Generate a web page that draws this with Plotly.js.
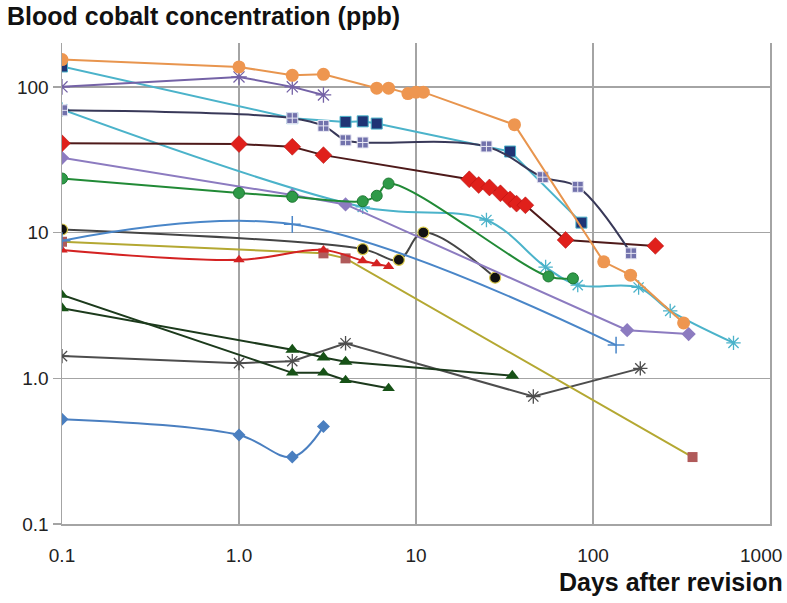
<!DOCTYPE html>
<html>
<head>
<meta charset="utf-8">
<script src="https://cdn.plot.ly/plotly-3.0.1.min.js"></script>
<style>html,body{margin:0;padding:0;background:#fff;}#chart{width:787px;height:603px;}</style>
</head>
<body>
<div id="chart"></div>
<script>
// ---- Data (days after revision, blood cobalt ppb) ----
const orangeX = [0.1, 1, 2, 3, 6, 7, 9, 10, 11, 36, 115, 163, 325];
const orangeY = [154, 137, 120, 122, 98, 98, 90, 92, 92, 55, 6.3, 5.1, 2.4];

const lavenderX = [0.1, 1, 2, 3];
const lavenderY = [100, 117, 100, 88];

const navyX = [0.1, 2, 4, 5, 6, 34, 86];
const navyY = [138, 61, 57.5, 58, 56, 36, 11.7];

const crossX = [0.1, 2, 3, 4, 5, 25, 52, 82, 164];
const crossY = [69, 61, 54, 43, 41.5, 39, 24, 20.6, 7.2];

const redDiaX = [0.1, 1, 2, 3, 20, 22.6, 26, 30, 34, 37, 41.5, 70, 225];
const redDiaY = [41, 40.5, 38.8, 34, 23.2, 21.2, 20.4, 18.6, 16.9, 15.8, 15.4, 8.9, 8.1];

const purpleX = [0.1, 2, 4, 156, 347];
const purpleY = [32.6, 18.1, 15.6, 2.14, 2.01];

const greenX = [0.1, 1, 2, 5, 6, 7, 56, 77];
const greenY = [23.5, 18.7, 17.6, 16.4, 17.9, 21.7, 5.0, 4.85];

const cyanX = [0.1, 5, 25, 54, 82, 181, 273, 622];
const cyanY = [70, 15, 12.2, 5.8, 4.36, 4.2, 2.9, 1.75];

const bluePlusX = [0.1, 2, 135];
const bluePlusY = [8.8, 11.4, 1.69];

const oliveX = [0.1, 3, 4, 365];
const oliveY = [8.65, 7.2, 6.65, 0.288];

const blackX = [0.1, 5, 8, 11, 28];
const blackY = [10.5, 7.7, 6.5, 10.0, 4.9];

const redTriX = [0.1, 1, 3, 5, 6, 7];
const redTriY = [7.6, 6.5, 7.6, 6.4, 6.1, 5.85];

const darkGreenAX = [0.1, 2, 3, 4, 7];
const darkGreenAY = [3.73, 1.09, 1.09, 0.97, 0.853];

const darkGreenBX = [0.1, 2, 3, 4, 35];
const darkGreenBY = [3.02, 1.57, 1.39, 1.30, 1.04];

const grayX = [0.1, 1, 2, 4, 46, 185];
const grayY = [1.42, 1.27, 1.31, 1.74, 0.75, 1.17];

const blueDiaX = [0.1, 1, 2, 3];
const blueDiaY = [0.524, 0.408, 0.288, 0.466];

const xTickVals = [0.1, 1, 10, 100, 1000];
const xTickText = ['0.1', '1.0', '10', '100', ''];
const lastXTickText = '1000';
const yTickVals = [0.1, 1, 10, 100];
const yTickText = ['0.1', '1.0', '10', '100'];

// ---- Traces ----
function tr(x, y, lineColor, shape, symbol, size, mColor, mLineColor, mLineWidth) {
  return {
    x: x, y: y, type: 'scatter', mode: 'lines+markers',
    line: {color: lineColor, width: 2, shape: shape},
    marker: {symbol: symbol, size: size, color: mColor,
             line: {color: mLineColor, width: mLineWidth}},
    hoverinfo: 'skip'
  };
}

const traces = [
  tr(blueDiaX, blueDiaY, '#4A7FC0', 'spline', 'diamond', 10, '#4A7FC0', '#4A7FC0', 0),
  tr(grayX, grayY, '#4D4D4D', 'linear', 'asterisk-open', 12, '#4D4D4D', '#4D4D4D', 1.3),
  tr(darkGreenBX, darkGreenBY, '#1C3A1C', 'linear', 'triangle-up', 12, '#175217', '#175217', 0),
  tr(darkGreenAX, darkGreenAY, '#1C3A1C', 'linear', 'triangle-up', 11, '#175217', '#175217', 0),
  tr(oliveX, oliveY, '#B4A832', 'linear', 'square', 10, '#B05A5A', '#B05A5A', 0),
  tr(redTriX, redTriY, '#D42222', 'spline', 'triangle-up', 10, '#D42222', '#D42222', 0),
  tr(blackX, blackY, '#454545', 'spline', 'circle', 11, '#111111', '#D8C84A', 1.2),
  tr(bluePlusX, bluePlusY, '#4A86C8', 'spline', 'cross-thin-open', 12, '#4A86C8', '#4A86C8', 1.5),
  tr(cyanX, cyanY, '#4BB3CA', 'spline', 'asterisk-open', 12, '#4BB3CA', '#4BB3CA', 1.3),
  tr(purpleX, purpleY, '#8C7BC0', 'linear', 'diamond', 11, '#8C7BC0', '#8C7BC0', 0),
  tr(greenX, greenY, '#218A36', 'spline', 'circle', 11, '#2E9A48', '#1F7A33', 1),
  tr(redDiaX, redDiaY, '#4E1A1A', 'linear', 'diamond', 13, '#E0201B', '#B01010', 0.5),
  tr(navyX, navyY, '#4BB3CA', 'linear', 'square', 11, '#1F3475', '#4BB3CA', 1),
  tr(crossX, crossY, '#383858', 'spline', 'square-cross', 11, '#7272AC', '#E8E8F4', 1),
  tr(lavenderX, lavenderY, '#7462A6', 'linear', 'asterisk-open', 13, '#7462A6', '#7462A6', 1.3),
  tr(orangeX, orangeY, '#E8954E', 'linear', 'circle', 13, '#EE9650', '#EE9650', 0)
];

const gridCol = '#A4A4A4';
const fontFam = 'Liberation Sans, Arial, sans-serif';
const tickFont = {family: fontFam, size: 19, color: '#222222'};

const layout = {
  width: 787, height: 603,
  margin: {l: 62, r: 17, t: 43, b: 79, pad: 0},
  paper_bgcolor: '#ffffff', plot_bgcolor: '#ffffff',
  showlegend: false,
  hovermode: false,
  xaxis: {
    type: 'log', range: [-1, 3], automargin: false,
    tickmode: 'array', tickvals: xTickVals, ticktext: xTickText,
    showgrid: true, gridcolor: gridCol, gridwidth: 1.5,
    showline: true, linecolor: gridCol, linewidth: 1.5,
    ticks: '', ticklabelstandoff: 14, zeroline: false,
    tickfont: tickFont
  },
  yaxis: {
    type: 'log', range: [-1, Math.log10(200)], automargin: false,
    tickmode: 'array', tickvals: yTickVals, ticktext: yTickText,
    showgrid: true, gridcolor: gridCol, gridwidth: 1.5,
    showline: true, mirror: true, linecolor: gridCol, linewidth: 1.5,
    ticks: 'outside', ticklen: 8, tickwidth: 1.5, tickcolor: gridCol,
    zeroline: false, tickfont: tickFont
  },
  annotations: [
    {text: lastXTickText, xref: 'x', yref: 'paper',
     x: Math.log10(xTickVals[xTickVals.length - 1]), xshift: -9,
     y: (524 - 555) / 481, xanchor: 'center', yanchor: 'middle',
     showarrow: false, font: tickFont},
    {text: 'Blood cobalt concentration (ppb)', xref: 'paper', yref: 'paper',
     x: (5 - 62) / 708, y: (524 - 16) / 481, xanchor: 'left', yanchor: 'middle',
     showarrow: false, font: {family: fontFam, size: 25, weight: 'bold', color: '#111111'}},
    {text: 'Days after revision', xref: 'paper', yref: 'paper',
     x: (785 - 62) / 708, y: (524 - 582) / 481, xanchor: 'right', yanchor: 'middle',
     showarrow: false, font: {family: fontFam, size: 25, weight: 'bold', color: '#111111'}}
  ]
};

Plotly.newPlot('chart', traces, layout, {displayModeBar: false, staticPlot: true});
</script>
</body>
</html>
